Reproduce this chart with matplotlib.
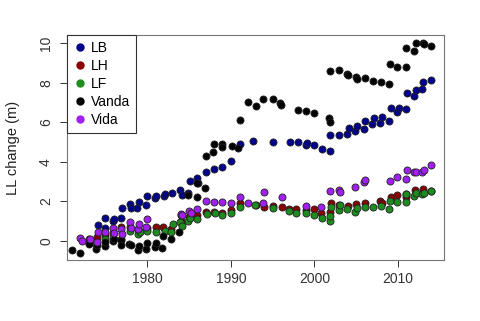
import matplotlib
matplotlib.use("Agg")
import matplotlib.pyplot as plt
from matplotlib.lines import Line2D

# lake level change (m) per site
lb_year = [1974.1, 1974.9, 1975.0, 1975.9, 1976.0, 1976.9, 1977.0, 1977.9, 1978.1, 1978.8,
           1979.0, 1979.8, 1980.0, 1980.9, 1981.0, 1982.0, 1982.1, 1983.0, 1983.9, 1984.1,
           1984.9, 1985.1, 1986.0, 1986.1, 1987.0, 1988.0, 1989.0, 1990.0, 1991.1, 1992.7,
           1995.1, 1997.1, 1998.0, 1999.0, 1999.1, 2000.0, 2000.9, 2001.9, 2001.9, 2002.9,
           2003.9, 2004.1, 2004.9, 2005.1, 2005.9, 2006.1, 2006.9, 2007.1, 2007.9, 2008.1,
           2008.9, 2009.1, 2009.9, 2010.1, 2010.9, 2011.1, 2011.9, 2012.1, 2012.9, 2013.0,
           2013.9]
lb_val = [0.81, 0.64, 1.15, 1.01, 1.10, 1.15, 1.69, 1.86, 1.65, 1.65,
          1.99, 1.82, 2.29, 2.16, 2.30, 2.29, 2.40, 2.41, 2.58, 2.35,
          2.44, 3.05, 3.17, 2.95, 3.50, 3.64, 3.73, 4.05, 4.90, 5.07,
          5.00, 5.01, 5.01, 4.88, 4.97, 4.84, 4.64, 4.57, 5.35, 5.35,
          5.41, 5.70, 5.58, 5.83, 5.67, 6.09, 5.92, 6.20, 5.98, 6.29,
          6.07, 6.71, 6.54, 6.71, 6.66, 7.47, 7.35, 7.64, 7.69, 8.03,
          8.14]

lh_year = [1973.0, 1974.0, 1975.0, 1975.9, 1976.9, 1977.9, 1978.9, 1980.0, 1981.0, 1981.9,
           1982.9, 1984.0, 1985.0, 1986.0, 1987.0, 1988.0, 1989.0, 1990.0, 1991.1, 1993.0,
           1994.0, 1995.0, 1996.1, 1997.0, 1997.8, 1999.0, 1999.9, 2000.8, 2001.9, 2002.0,
           2002.9, 2004.0, 2005.0, 2006.0, 2007.9, 2008.1, 2009.1, 2009.9, 2010.9, 2011.0,
           2012.0, 2013.0, 2013.9]
lh_val = [0.10, 0.19, 0.30, 0.40, 0.72, 0.72, 0.60, 0.67, 0.69, 0.72,
          0.60, 1.00, 1.20, 1.30, 1.45, 1.45, 1.40, 1.57, 1.91, 1.82,
          1.74, 1.77, 1.70, 1.62, 1.60, 1.55, 1.60, 1.43, 1.48, 1.91,
          1.82, 1.77, 1.86, 1.94, 2.04, 1.90, 2.24, 2.33, 2.24, 2.40,
          2.58, 2.61, 2.55]

lf_year = [1973.0, 1973.9, 1974.9, 1975.9, 1976.9, 1977.9, 1978.9, 1979.1, 1980.0, 1981.0,
           1982.1, 1982.9, 1983.1, 1983.9, 1984.1, 1984.9, 1985.1, 1986.0, 1987.1, 1988.1,
           1989.0, 1990.0, 1991.1, 1992.9, 1995.0, 1997.0, 1997.8, 1999.0, 2000.0, 2000.9,
           2001.9, 2001.9, 2002.0, 2002.9, 2003.0, 2003.9, 2004.9, 2005.1, 2006.0, 2007.0,
           2008.0, 2008.9, 2009.0, 2009.9, 2010.9, 2011.0, 2011.9, 2012.1, 2012.9, 2013.1,
           2013.9]
lf_val = [-0.10, -0.15, 0.09, 0.14, 0.09, 0.51, 0.34, 0.45, 0.51, 0.47,
          0.52, 0.47, 0.86, 0.98, 0.76, 1.03, 1.15, 1.10, 1.35, 1.40,
          1.31, 1.40, 1.74, 1.82, 1.69, 1.52, 1.40, 1.43, 1.31, 1.18,
          1.03, 1.26, 1.70, 1.57, 1.82, 1.60, 1.48, 1.65, 1.70, 1.70,
          1.77, 1.60, 2.02, 1.99, 1.99, 2.36, 2.28, 2.44, 2.36, 2.44,
          2.54]

vanda_year = [1971.0, 1971.9, 1973.0, 1973.9, 1974.0, 1974.9, 1975.0, 1975.9, 1976.0, 1976.8,
              1976.9, 1977.8, 1978.0, 1978.9, 1979.0, 1979.8, 1980.0, 1980.9, 1981.0, 1981.8,
              1981.9, 1982.9, 1983.8, 1984.0, 1984.9, 1985.9, 1986.0, 1986.9, 1987.0, 1987.9,
              1988.0, 1988.9, 1989.0, 1990.1, 1990.9, 1991.1, 1992.1, 1993.0, 1993.9, 1995.1,
              1995.9, 1996.0, 1998.0, 1999.0, 2000.0, 2001.8, 2001.9, 2001.9, 2002.9, 2003.9,
              2004.0, 2005.0, 2005.1, 2006.0, 2007.0, 2008.0, 2008.9, 2009.0, 2009.9, 2010.9,
              2011.0, 2011.9, 2012.1, 2013.0, 2013.1, 2013.9]
vanda_val = [-0.44, -0.63, -0.15, -0.42, -0.22, -0.25, -0.05, 0.00, 0.10, 0.05,
             -0.20, -0.15, -0.22, -0.45, -0.25, -0.40, -0.10, -0.30, -0.12, -0.34,
             0.25, 0.09, 0.47, 1.32, 2.33, 2.24, 2.92, 2.67, 4.30, 4.48,
             4.89, 4.89, 4.77, 4.80, 4.69, 6.12, 7.03, 6.83, 7.17, 7.17,
             6.97, 6.87, 6.63, 6.59, 6.49, 6.20, 6.00, 8.60, 8.65, 8.43,
             8.40, 8.31, 8.18, 8.23, 8.11, 8.03, 7.93, 8.94, 8.78, 8.82,
             9.75, 9.63, 10.00, 10.00, 9.95, 9.88]

vida_year = [1971.9, 1972.2, 1973.1, 1974.0, 1974.1, 1974.9, 1975.9, 1976.0, 1976.9, 1977.0,
             1977.9, 1978.1, 1978.9, 1979.0, 1979.9, 1980.0, 1984.0, 1984.2, 1985.0, 1985.2,
             1986.0, 1987.0, 1988.0, 1989.0, 1990.0, 1991.1, 1992.0, 1993.9, 1994.0, 1996.1,
             1999.0, 2000.8, 2001.9, 2002.9, 2003.0, 2004.9, 2005.9, 2006.1, 2009.0, 2009.9,
             2010.9, 2011.1, 2011.9, 2012.1, 2012.9, 2013.1, 2013.9]
vida_val = [0.14, 0.00, 0.09, -0.03, 0.44, 0.47, 0.67, 0.40, 0.61, 0.35,
            0.94, 0.65, 0.61, 0.85, 0.70, 1.11, 1.35, 1.30, 1.52, 1.40,
            1.60, 2.02, 1.99, 1.96, 1.91, 2.24, 1.91, 1.94, 2.50, 2.24,
            1.79, 1.70, 2.53, 2.58, 2.50, 2.72, 2.97, 3.09, 3.05, 3.22,
            3.14, 3.59, 3.47, 3.50, 3.51, 3.59, 3.84]

names = ["LB", "LH", "LF", "Vanda", "Vida"]
colors = ["#00008B", "#8B0000", "#1E8B1E", "#000000", "#A020F0"]
series = [(lb_year, lb_val), (lh_year, lh_val), (lf_year, lf_val),
          (vanda_year, vanda_val), (vida_year, vida_val)]

plt.rcParams["font.family"] = ["Liberation Sans", "DejaVu Sans"]

fig = plt.figure(figsize=(4.8, 3.21), dpi=100)
ax = fig.add_axes([0.1396, 0.19, 0.7854, 0.701])

for (x, y), c in zip(series, colors):
    ax.scatter(x, y, s=26, c=c, edgecolors="#222222", linewidths=0.6, zorder=3)

ax.set_xlim(1970.4, 2015.5)
ax.set_ylim(-0.96, 10.42)
ax.set_xticks([1980, 1990, 2000, 2010])
ax.set_yticks([0, 2, 4, 6, 8, 10])
ax.tick_params(direction="out", length=5, width=0.7, labelsize=10, colors="#333333")
ax.tick_params(axis="y", pad=5)
for lab in ax.get_yticklabels():
    lab.set_rotation(90)
    lab.set_va("center")
for sp in ax.spines.values():
    sp.set_color("#777777")
    sp.set_linewidth(0.8)
ax.set_ylabel("LL change (m)", fontsize=10.5, color="#222222", labelpad=14)

handles = [Line2D([], [], marker="o", linestyle="", color=c, markersize=5)
           for c in colors]
leg = ax.legend(handles, names, loc="upper left", bbox_to_anchor=(0, 1),
                borderaxespad=0, fancybox=False, framealpha=1, fontsize=10,
                handletextpad=0.35, labelspacing=0.3, handlelength=1.0,
                borderpad=0.4)
leg.get_frame().set_edgecolor("#333333")
leg.get_frame().set_linewidth(0.8)

fig.savefig("out.png", dpi=100)
